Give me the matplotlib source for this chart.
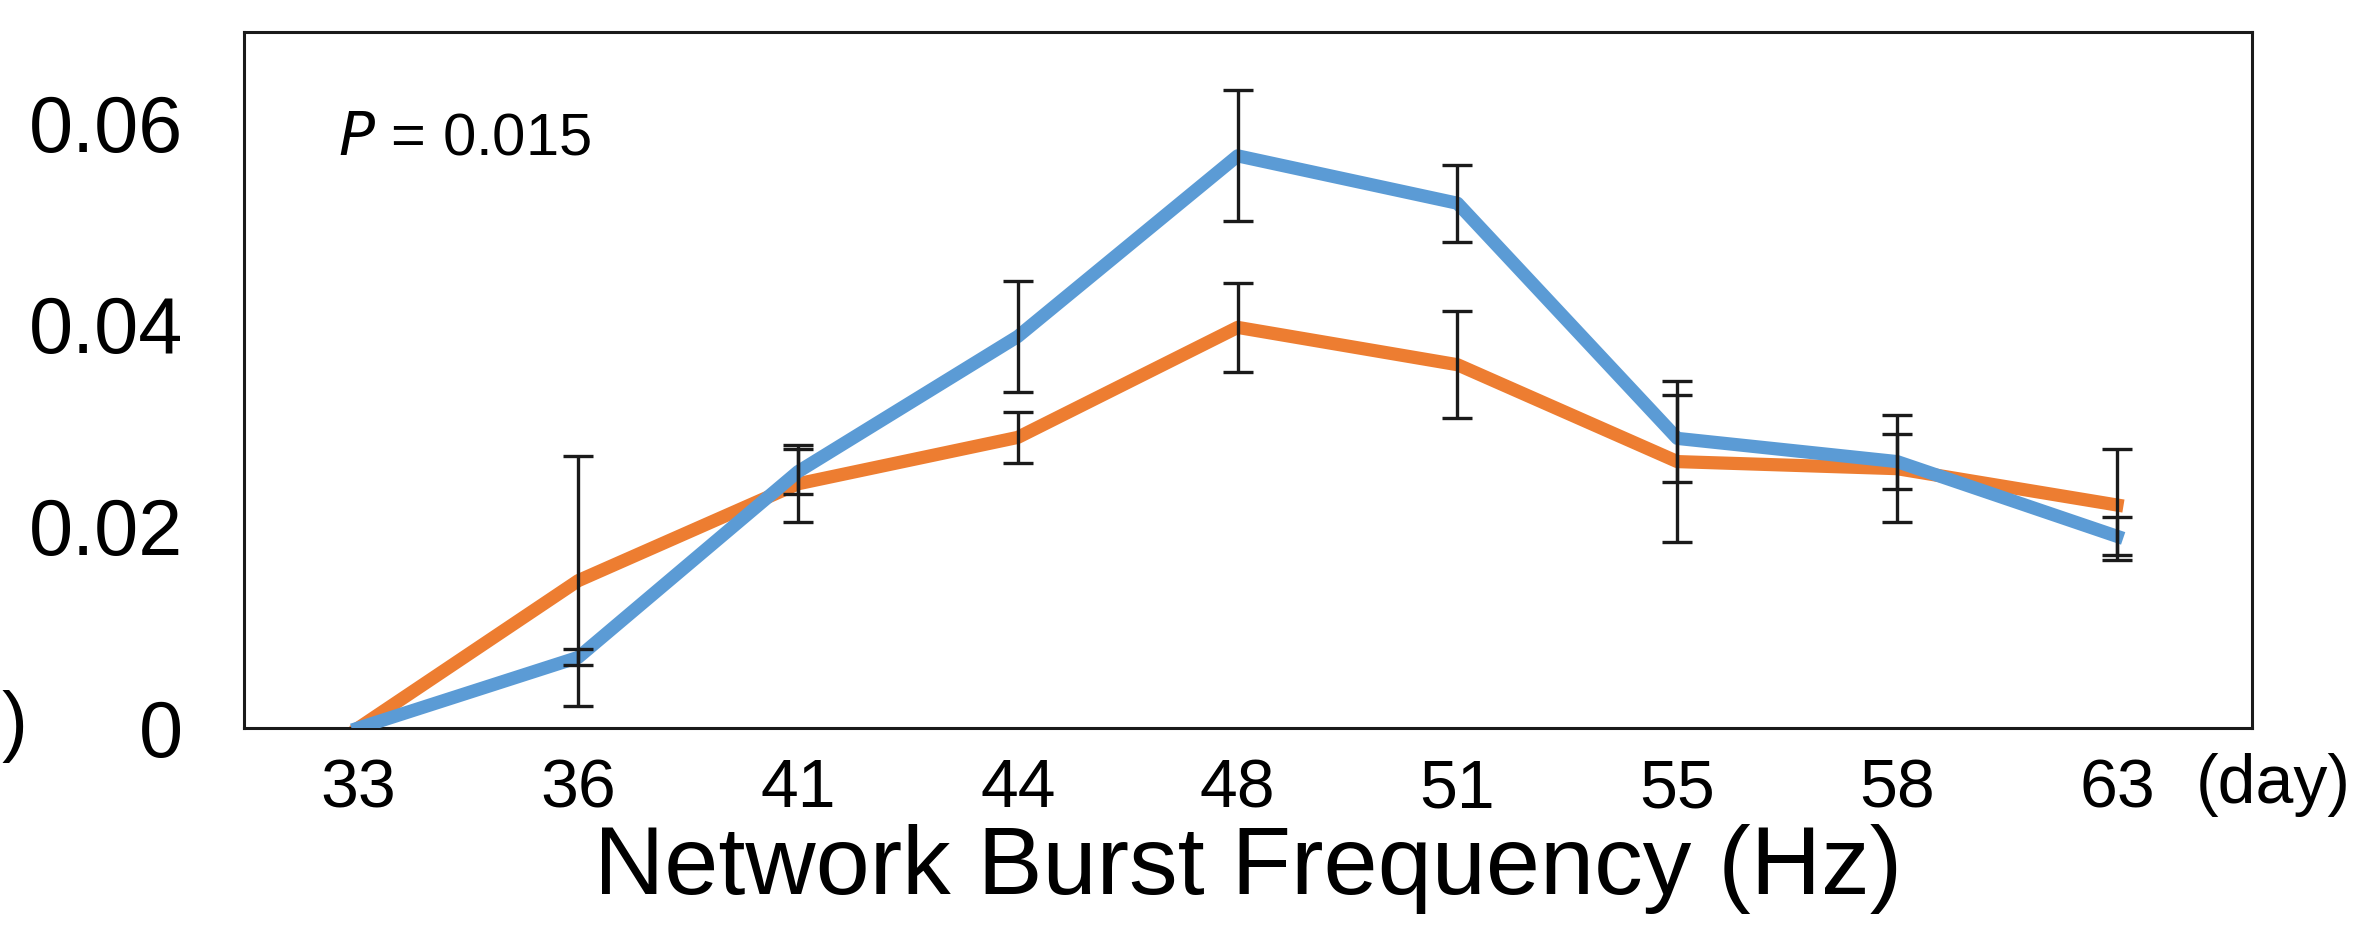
import numpy as np
import matplotlib.pyplot as plt

plt.rcParams['font.family'] = ['Liberation Sans', 'DejaVu Sans']

# ------------------- Data -------------------
days = ['33', '36', '41', '44', '48', '51', '55', '58', '63']
blue_mean = [0.0, 0.0070, 0.0254, 0.0388, 0.0567, 0.0520, 0.0287, 0.0264, 0.0190]
blue_err = [0.0, 0.0008, 0.0022, 0.0055, 0.0065, 0.0038, 0.0043, 0.0027, 0.0019]
orange_mean = [0.0, 0.0146, 0.0242, 0.0288, 0.0397, 0.0360, 0.0264, 0.0257, 0.0221]
orange_err = [0.0, 0.0124, 0.0038, 0.0025, 0.0044, 0.0053, 0.0080, 0.0053, 0.0055]
y_ticks = [0, 0.02, 0.04, 0.06]
y_ticklabels = ['0', '0.02', '0.04', '0.06']

BLUE = '#5B9BD5'
ORANGE = '#ED7D31'

# ------------------- Figure -------------------
fig = plt.figure(figsize=(23.56, 9.30), dpi=100)
ax = fig.add_axes([0.1036, 0.2172, 0.8523, 0.7487])

x = np.arange(len(days))
ax.plot(x, orange_mean, color=ORANGE, lw=9.5, solid_joinstyle='round', zorder=2)
ax.plot(x, blue_mean, color=BLUE, lw=9.5, solid_joinstyle='round', zorder=3)

# error bars (none at day 33)
for mean, err in [(orange_mean, orange_err), (blue_mean, blue_err)]:
    ax.errorbar(x[1:], mean[1:], yerr=err[1:], fmt='none', ecolor='#1a1a1a',
                elinewidth=2.4, capsize=11, capthick=2.4, zorder=4)

ax.set_xlim(-0.52, 8.615)
ax.set_ylim(0, 0.069)
ax.set_xticks(x)
ax.set_xticklabels(days, fontsize=49)
ax.set_yticks(y_ticks)
ax.set_yticklabels(y_ticklabels, fontsize=57)
ax.tick_params(axis='x', length=0, pad=21)
ax.tick_params(axis='y', length=0, pad=44)

for s in ax.spines.values():
    s.set_linewidth(2.2)
    s.set_color('#1a1a1a')

ax.set_xlabel('Network Burst Frequency (Hz)', fontsize=70, labelpad=2)

ax.text(0.047, 0.823, r'$\it{P}$ = 0.015', transform=ax.transAxes,
        fontsize=43, va='baseline', ha='left')

fig.text(2196 / 2356, 1 - 803 / 930, '(day)', fontsize=49, va='baseline', ha='left')
fig.text(1 / 2356, 1 - 726 / 930, ')', fontsize=56, va='center', ha='left')

fig.savefig('out.png', dpi=100)
